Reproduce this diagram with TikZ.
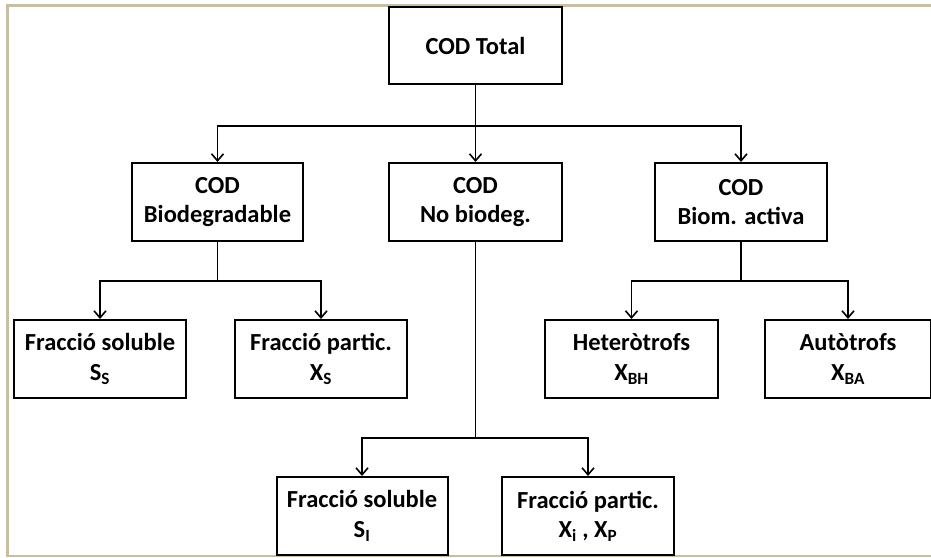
\documentclass[tikz,border=0pt]{standalone}
\usepackage{fontspec}
\setmainfont{Carlito}
\usetikzlibrary{arrows.meta}
\definecolor{framecol}{RGB}{200,192,155}
\tikzset{
  box/.style={draw=black, line width=2pt, fill=white, align=center,
    font=\fontsize{24.5}{29.5}\selectfont\bfseries, inner sep=0pt,
    minimum height=78pt},
  link/.style={draw=black, line width=1.7pt},
  arr/.style={link, -{Straight Barb[length=7pt,width=12pt,line width=1.6pt]}},
  edge line/.style={draw=framecol, line width=3pt},
}
\begin{document}
\begin{tikzpicture}[x=1pt, y=-1pt]
  \useasboundingbox (0,0) rectangle (931,557);
  \fill[white] (0,0) rectangle (931,557);
  % page frame
  \draw[edge line] (7.5,557) -- (7.5,5) -- (931,5);
  \draw[draw=framecol, line width=2pt] (7.5,556) -- (931,556);

  % level 0
  \node[box, minimum width=173pt, minimum height=77pt] (total) at (475.5,45.5) {COD Total};
  % level 1
  \node[box, minimum width=171pt] (bio)   at (217.5,202) {COD\\Biodegradable};
  \node[box, minimum width=173pt] (nobio) at (475.5,202) {COD\\No biodeg.};
  \node[box, minimum width=172pt] (biom)  at (741,202)   {COD\\Biom. activa};
  % level 2
  \node[box, minimum width=172pt] (ss)  at (100,359)   {Fracció soluble\\S\textsubscript{S}};
  \node[box, minimum width=172pt] (xs)  at (321,359)   {Fracció partic.\\X\textsubscript{S}};
  \node[box, minimum width=173pt] (xbh) at (631.5,359) {Heteròtrofs\\X\textsubscript{BH}};
  \node[box, minimum width=166pt] (xba) at (848,359)   {Autòtrofs\\X\textsubscript{BA}};
  % level 3
  \node[box, minimum width=171pt] (si) at (362,516) {Fracció soluble\\S\textsubscript{I}};
  \node[box, minimum width=172pt] (xp) at (588,516) {Fracció partic.\\X\textsubscript{i} , X\textsubscript{P}};

  % connectors
  \draw[link] (total.south) -- ++(0,41) coordinate (j0);
  \draw[arr] (j0) -| (bio.north);
  \draw[arr] (j0) -- (nobio.north);
  \draw[arr] (j0) -| (biom.north);

  \draw[link] (bio.south) -- ++(0,39) coordinate (j1);
  \draw[arr] (j1) -| (ss.north);
  \draw[arr] (j1) -| (xs.north);

  \draw[link] (biom.south) -- ++(0,39) coordinate (j2);
  \draw[arr] (j2) -| (xbh.north);
  \draw[arr] (j2) -| (xba.north);

  \draw[link] (nobio.south) -- ++(0,196) coordinate (j3);
  \draw[arr] (j3) -| (si.north);
  \draw[arr] (j3) -| (xp.north);
\end{tikzpicture}
\end{document}
